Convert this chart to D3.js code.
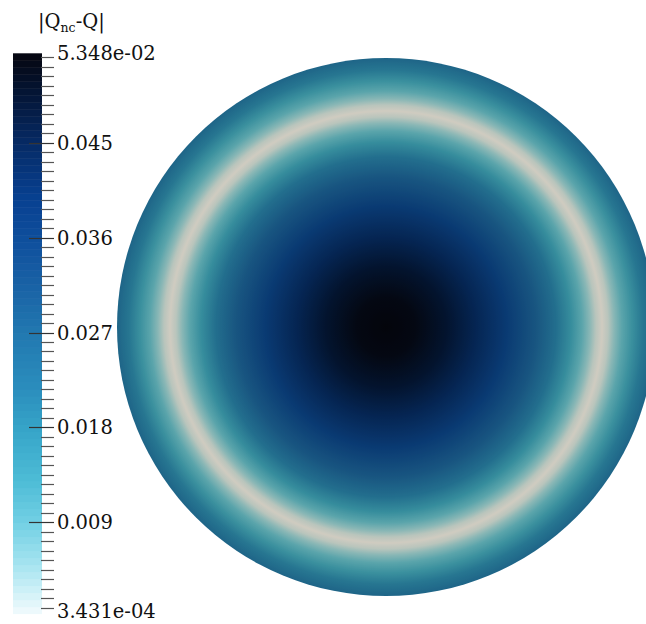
<!DOCTYPE html>
<html>
<head>
<meta charset="utf-8">
<script src="https://cdn.jsdelivr.net/npm/d3@7"></script>
<style>
  html, body { margin: 0; padding: 0; background: #fff; }
  svg { display: block; }
</style>
</head>
<body>
<svg id="chart" width="646" height="624"></svg>
<script>
// colour map (value -> colour)
const cmapValues = [0.000343, 0.005, 0.009, 0.013, 0.018, 0.022, 0.027, 0.031, 0.036, 0.040, 0.045, 0.049, 0.05348];
const cmapColors = ["#f2fbfd", "#a6e4f0", "#72d0e4", "#4dbcd6", "#36a4c8", "#2a8cbc", "#2178b0", "#1a64a6", "#0e4e9c", "#073f8f", "#062a64", "#04183c", "#05060f"];

// radial profile of |Q_nc - Q| across the disk (radius in px from centre)
const profileRadius = [0, 30, 60, 90, 120, 150, 170, 185, 196, 204, 210, 216, 222, 228, 236, 246, 257, 269];
const profileValue = [0.0535, 0.0525, 0.049, 0.044, 0.038, 0.030, 0.023, 0.016, 0.010, 0.0055, 0.002, 0.0004, 0.002, 0.0055, 0.010, 0.015, 0.021, 0.026];

const majorTicks = [0.009, 0.018, 0.027, 0.036, 0.045];
const majorLabels = ["0.009", "0.018", "0.027", "0.036", "0.045"];
const rangeMin = 0.000343, rangeMax = 0.05348;
const rangeLabels = ["3.431e-04", "5.348e-02"];

const svg = d3.select("#chart");
const color = d3.scaleLinear().domain(cmapValues).range(cmapColors).clamp(true);

// ---- disk ----
const cx = 386, cy = 327, R = 269;
const defs = svg.append("defs");
const rScale = d3.scaleLinear().domain([0, R]).range([0, 1]);

const grad = defs.append("radialGradient").attr("id", "diskGrad")
    .attr("cx", 0.5).attr("cy", 0.5).attr("r", 0.5);
grad.selectAll("stop")
    .data(profileRadius.map((r, i) => ({ r, v: profileValue[i] })))
    .enter().append("stop")
    .attr("offset", d => rScale(d.r))
    .attr("stop-color", d => color(d.v));

// surface shading seen on the rendered disk (slightly darker and warmer than the bar)
const shade = defs.append("filter").attr("id", "shade")
    .attr("color-interpolation-filters", "sRGB");
shade.append("feColorMatrix").attr("type", "matrix")
    .attr("values", "0.86 0 0 0 0  0 0.81 0 0 0  0 0 0.76 0 0  0 0 0 1 0");

svg.append("circle")
    .attr("cx", cx).attr("cy", cy).attr("r", R)
    .attr("fill", "url(#diskGrad)")
    .attr("filter", "url(#shade)");

// ---- colour bar ----
const barX = 13, barW = 29;
const y = d3.scaleLinear().domain([rangeMin, rangeMax]).range([613.6, 53.3]);
const nBands = 80;
const bandEdges = d3.range(nBands + 1).map(i => rangeMin + (rangeMax - rangeMin) * i / nBands);
svg.append("g").selectAll("rect")
    .data(d3.pairs(bandEdges))
    .enter().append("rect")
    .attr("x", barX)
    .attr("width", barW)
    .attr("y", d => y(d[1]))
    .attr("height", d => y(d[0]) - y(d[1]) + 0.5)
    .attr("fill", d => color((d[0] + d[1]) / 2));

// minor ticks every 0.0009
const isMajor = d => majorTicks.some(m => Math.abs(m - d) < 1e-6);
const minorTicks = d3.range(1, 60).map(i => +(i * 0.0009).toFixed(4));
svg.append("g").selectAll("line")
    .data(minorTicks)
    .enter().append("line")
    .attr("x1", d => isMajor(d) ? 29 : 41)
    .attr("x2", 54)
    .attr("y1", d => Math.round(y(d)) + 0.5)
    .attr("y2", d => Math.round(y(d)) + 0.5)
    .attr("stroke", d => isMajor(d) ? "#333" : "#555")
    .attr("stroke-width", 1.2);

const labelFont = "'DejaVu Serif', serif";
const fs = 19.5;
svg.append("g").selectAll("text")
    .data(majorTicks)
    .enter().append("text")
    .attr("x", 57)
    .attr("y", d => y(d))
    .attr("dy", "0.36em")
    .attr("font-family", labelFont)
    .attr("font-size", fs)
    .attr("fill", "#111")
    .text((d, i) => majorLabels[i]);

svg.append("text")
    .attr("x", 57).attr("y", y(0.0531)).attr("dy", "0.15em")
    .attr("font-family", labelFont).attr("font-size", fs).attr("fill", "#111")
    .text(rangeLabels[1]);
svg.append("text")
    .attr("x", 57).attr("y", y(0.0009)).attr("dy", "0.55em")
    .attr("font-family", labelFont).attr("font-size", fs).attr("fill", "#111")
    .text(rangeLabels[0]);

// title |Q_nc-Q|
const title = svg.append("text")
    .attr("x", 38).attr("y", 28)
    .attr("font-family", labelFont).attr("font-size", fs).attr("fill", "#111");
title.append("tspan").text("|Q");
title.append("tspan").attr("font-size", 12.5).attr("dy", 4).text("nc");
title.append("tspan").attr("dy", -4).text("-Q|");
</script>
</body>
</html>
